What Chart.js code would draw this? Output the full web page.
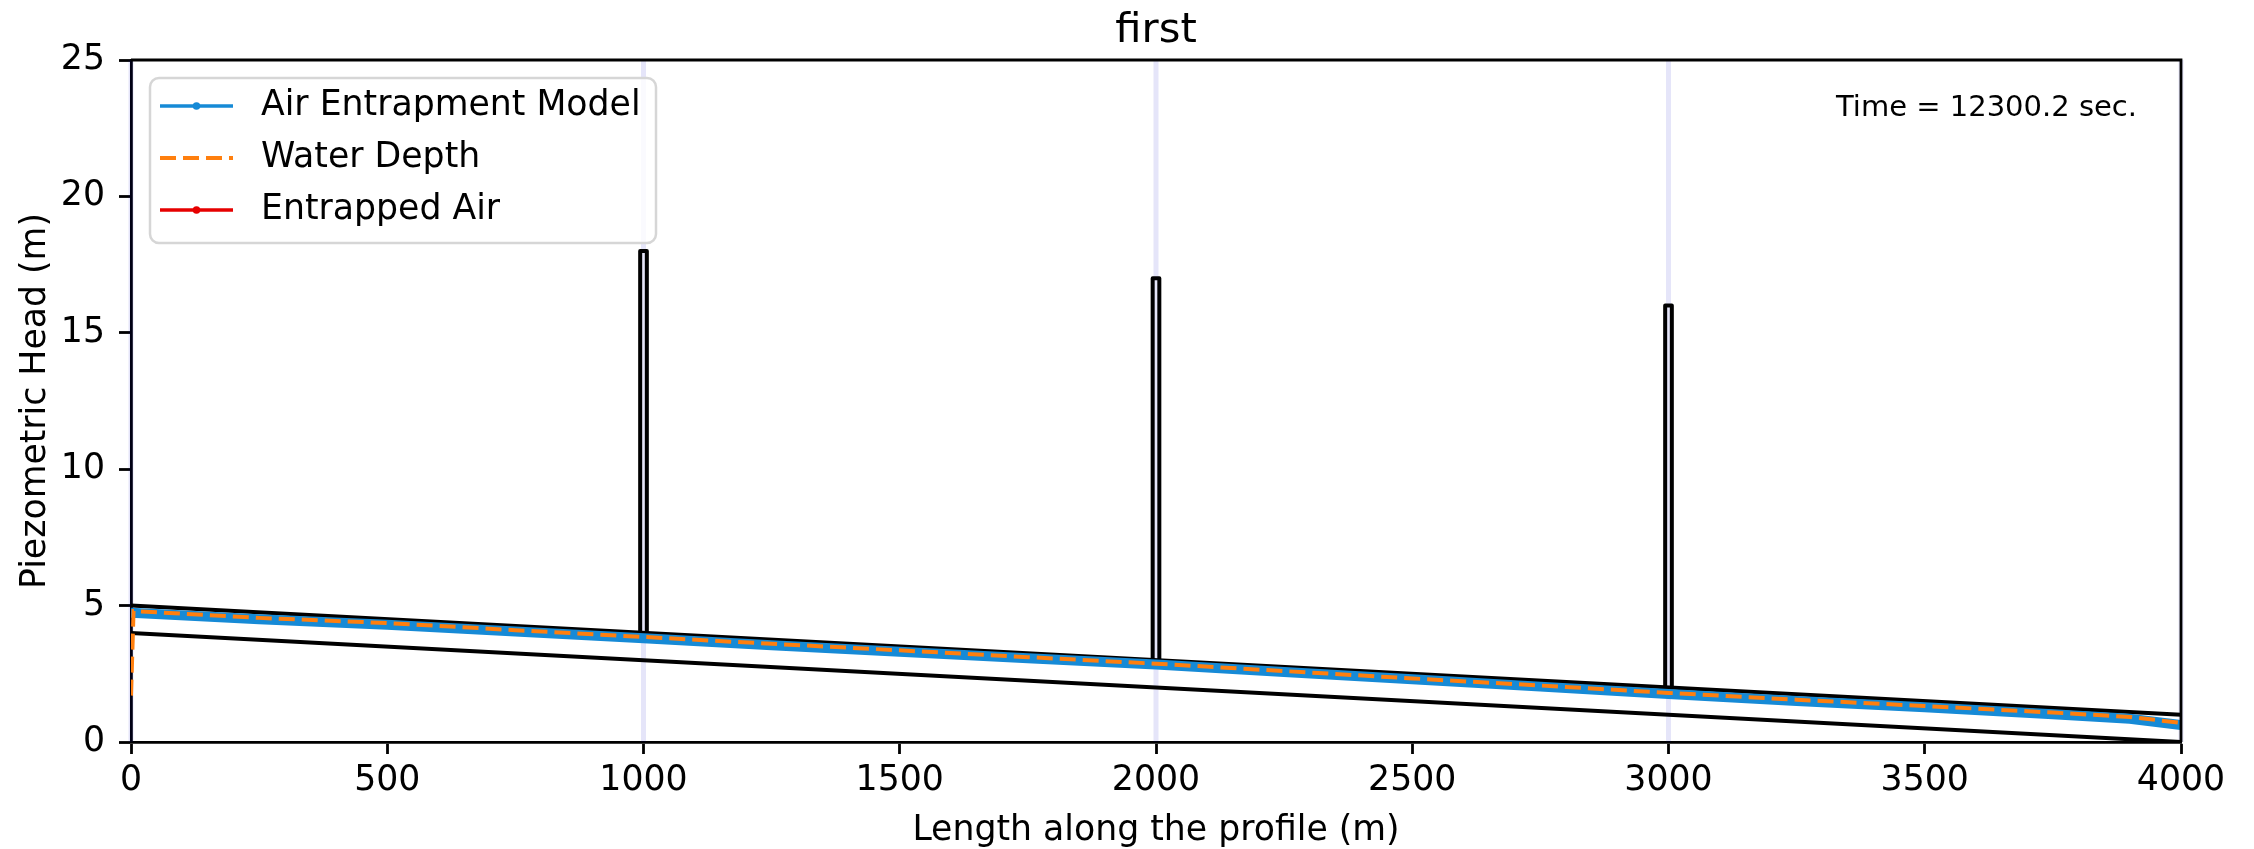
<!DOCTYPE html>
<html>
<head>
<meta charset="utf-8">
<script src="https://cdn.jsdelivr.net/npm/chart.js@4.4.1/dist/chart.umd.min.js"></script>
<style>
  html, body { margin: 0; padding: 0; background: #fff; }
  #wrap { width: 2254px; height: 849px; }
</style>
</head>
<body>
<div id="wrap"><canvas id="chart" width="2254" height="849"></canvas></div>
<script>
// pipe profile (m)
const pipeX = [0, 4000];
const pipeCrown = [5, 1];
const pipeInvert = [4, 0];

// vertical shafts
const shaftX = [1000, 2000, 3000];
const shaftBase = [4.0, 3.0, 2.0];
const shaftTop = [18, 17, 16];
const shaftHalf = 6.5;

// light guide lines
const guideX = [0, 1000, 2000, 3000, 4000];

// Air Entrapment Model
const modelX = [0, 250, 500, 750, 1000, 1250, 1500, 1750, 2000, 2250, 2500, 2750, 3000, 3250, 3500, 3750, 3900, 4000];
const modelY = [4.74, 4.5, 4.3, 4.05, 3.8, 3.55, 3.31, 3.07, 2.84, 2.57, 2.3, 2.03, 1.76, 1.5, 1.27, 1.02, 0.85, 0.62];

// Water Depth
const depthX = [0, 5, 250, 500, 750, 1000, 1250, 1500, 1750, 2000, 2250, 2500, 2750, 3000, 3250, 3500, 3750, 3900, 4000];
const depthY = [1.7, 4.8, 4.55, 4.36, 4.1, 3.85, 3.6, 3.36, 3.11, 2.87, 2.6, 2.33, 2.07, 1.8, 1.55, 1.32, 1.08, 0.92, 0.7];

// Entrapped Air (no pockets at this time)
const airX = [];
const airY = [];

const titleText = 'first';
const timeLabel = 'Time = 12300.2 sec.';

const FONT = 'DejaVu Sans';
const BLUE = '#168ad6';
const ORANGE = '#ff7f0e';
const RED = '#e60000';
const LAV = 'rgba(0,0,200,0.1)';

function pts(xs, ys) {
    return xs.map((x, i) => ({ x: x, y: ys[i] }));
}

var datasets = [];

datasets.push({ label: 'Water Depth', data: pts(depthX, depthY), borderColor: ORANGE, borderWidth: 4, borderDash: [16, 7], pointRadius: 0, order: 0 });
datasets.push({ label: 'Air Entrapment Model', data: pts(modelX, modelY), borderColor: BLUE, borderWidth: 10, pointRadius: 0, order: 1 });
datasets.push({ label: 'Entrapped Air', data: pts(airX, airY), borderColor: RED, borderWidth: 3.5, pointRadius: 0, order: 1 });

datasets.push({ label: 'crown', data: pts(pipeX, pipeCrown), borderColor: '#000', borderWidth: 4, pointRadius: 0, order: 2 });
datasets.push({ label: 'invert', data: pts(pipeX, pipeInvert), borderColor: '#000', borderWidth: 4, pointRadius: 0, order: 2 });

shaftX.forEach((c, i) => {
    datasets.push({
        label: 'shaft' + i,
        data: [
            { x: c - shaftHalf, y: shaftBase[i] },
            { x: c - shaftHalf, y: shaftTop[i] },
            { x: c + shaftHalf, y: shaftTop[i] },
            { x: c + shaftHalf, y: shaftBase[i] }
        ],
        borderColor: '#000', borderWidth: 4, borderJoinStyle: 'round', borderCapStyle: 'round',
        pointRadius: 0, order: 2
    });
});

guideX.forEach((g, i) => {
    datasets.push({ label: 'guide' + i, data: [{ x: g, y: 0 }, { x: g, y: 25 }], borderColor: LAV, borderWidth: 5, pointRadius: 0, order: 3, clip: 3 });
});

// title, top/right spines, time stamp and legend
const extras = {
    id: 'extras',
    afterDraw(chart) {
        const ctx = chart.ctx;
        const a = chart.chartArea;
        ctx.save();

        ctx.strokeStyle = '#000';
        ctx.lineWidth = 2.8;
        ctx.beginPath();
        ctx.moveTo(a.left, a.top);
        ctx.lineTo(a.right, a.top);
        ctx.lineTo(a.right, a.bottom);
        ctx.stroke();

        ctx.fillStyle = '#000';
        ctx.font = '41.7px "' + FONT + '"';
        ctx.textAlign = 'center';
        ctx.textBaseline = 'alphabetic';
        ctx.fillText(titleText, (a.left + a.right) / 2, 42);

        ctx.font = '29px "' + FONT + '"';
        ctx.textAlign = 'right';
        ctx.fillText(timeLabel, 2137, 116);

        // legend
        var bx = 150, by = 78, bw = 506, bh = 165;
        ctx.beginPath();
        ctx.roundRect(bx, by, bw, bh, 9);
        ctx.fillStyle = 'rgba(255,255,255,0.8)';
        ctx.fill();
        ctx.strokeStyle = '#d6d6d6';
        ctx.lineWidth = 2.5;
        ctx.stroke();

        var rows = [
            { text: 'Air Entrapment Model', color: BLUE, dash: [], dot: true, y: 106 },
            { text: 'Water Depth', color: ORANGE, dash: [16, 7], dot: false, y: 158 },
            { text: 'Entrapped Air', color: RED, dash: [], dot: true, y: 210 }
        ];
        rows.forEach((r) => {
            ctx.strokeStyle = r.color;
            ctx.lineWidth = r.dot ? 3.6 : 4;
            ctx.setLineDash(r.dash);
            ctx.beginPath();
            ctx.moveTo(160, r.y);
            ctx.lineTo(233, r.y);
            ctx.stroke();
            ctx.setLineDash([]);
            if (r.dot) {
                ctx.fillStyle = r.color;
                ctx.beginPath();
                ctx.arc(196.5, r.y, 3.8, 0, Math.PI * 2);
                ctx.fill();
            }
            ctx.fillStyle = '#000';
            ctx.font = '34.7px "' + FONT + '"';
            ctx.textAlign = 'left';
            ctx.textBaseline = 'middle';
            ctx.fillText(r.text, 261, r.y);
        });

        ctx.restore();
    }
};

function axisTicks() {
    return {
        drawOnChartArea: false, drawTicks: true, tickLength: 12, tickWidth: 2.8, tickColor: '#000'
    };
}

new Chart(document.getElementById('chart').getContext('2d'), {
    type: 'line',
    data: { datasets: datasets },
    options: {
        responsive: false,
        animation: false,
        devicePixelRatio: 1,
        layout: { padding: { top: 60, right: 73, bottom: 0, left: 0 } },
        plugins: {
            legend: { display: false },
            tooltip: { enabled: false },
            title: { display: false }
        },
        scales: {
            x: {
                type: 'linear', min: 0, max: 4000,
                ticks: { stepSize: 500, color: '#000', font: { family: FONT, size: 34.7 }, padding: 6, maxRotation: 0, callback: (v) => String(v) },
                grid: axisTicks(),
                border: { color: '#000', width: 2.8 },
                title: { display: true, text: 'Length along the profile (m)', color: '#000', font: { family: FONT, size: 34.7 }, padding: { top: 0, bottom: -3 } },
                afterFit: (s) => { s.height = 107; }
            },
            y: {
                type: 'linear', min: 0, max: 25,
                ticks: { stepSize: 5, color: '#000', font: { family: FONT, size: 34.7 }, padding: 14, callback: (v) => String(v) },
                grid: axisTicks(),
                border: { color: '#000', width: 2.8 },
                title: { display: true, text: 'Piezometric Head (m)', color: '#000', font: { family: FONT, size: 34.7 }, padding: { top: 15, bottom: 0 } },
                afterFit: (s) => { s.width = 131; }
            }
        }
    },
    plugins: [extras]
});
</script>
</body>
</html>
